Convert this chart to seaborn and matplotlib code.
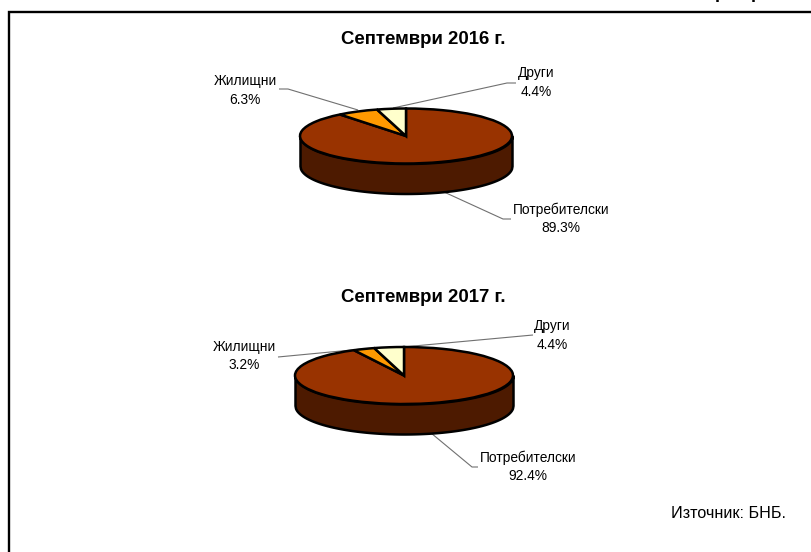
import numpy as np
import matplotlib.pyplot as plt
import seaborn as sns

# Data
categories = ['Потребителски', 'Жилищни', 'Други']
values_2016 = [89.3, 6.3, 4.4]
values_2017 = [92.4, 3.2, 4.4]
colors = ['#993300', '#FF9900', '#FFFFCC']
side_color = '#4D1A00'

W, H = 811, 552

sns.set_theme(style='white')
plt.rcParams['font.family'] = ['Liberation Sans', 'DejaVu Sans']

fig = plt.figure(figsize=(W / 100, H / 100), dpi=100, facecolor='white')

# back axes in pixel coordinates, for frame, texts and leader lines
bg = fig.add_axes([0, 0, 1, 1])
bg.set_xlim(0, W)
bg.set_ylim(H, 0)
bg.axis('off')


def draw_pie(values, cx, cy, rx, ry, depth):
    ax = fig.add_axes([(cx - rx) / W, (H - cy - ry - depth) / H, 2 * rx / W, (2 * ry + depth) / H])
    d = depth / ry
    x = np.linspace(-1, 1, 400)
    low = -np.sqrt(1 - x ** 2)
    ax.pie(values, colors=colors, startangle=90, counterclock=False, radius=1,
           wedgeprops={'edgecolor': 'black', 'linewidth': 1.8, 'clip_on': False, 'zorder': 3})
    ax.fill_between(x, low - d, low, facecolor=side_color, edgecolor='black',
                    linewidth=1.8, clip_on=False, zorder=2)
    ax.set_aspect('auto')
    ax.set_xlim(-1, 1)
    ax.set_ylim(-1 - d, 1)
    ax.axis('off')
    ax.patch.set_alpha(0)
    return ax


def label(i, values, x, y):
    bg.text(x, y, categories[i] + '\n' + f'{values[i]:.1f}%', ha='center', va='center',
            fontsize=9.9, color='black', linespacing=1.4)


def leader(xs, ys):
    bg.plot(xs, ys, color='#707070', lw=0.8, solid_capstyle='butt')


# frame of the source page
bg.plot([9, 9, W], [H, 12, 12], color='black', lw=1.7, solid_joinstyle='miter')
# clipped heading above the frame, only the descenders are visible
bg.text(720.5, -7, 'р', fontsize=13, fontweight='bold', ha='center', va='center', color='black', clip_on=True)
bg.text(756, -7, 'р', fontsize=13, fontweight='bold', ha='center', va='center', color='black', clip_on=True)

# Септември 2016
bg.text(423, 40, 'Септември 2016 г.', fontsize=13.4, fontweight='bold', ha='center', va='center', color='black')
leader([279, 288, 358], [89, 89, 110])
leader([516, 507, 393], [83, 83, 108])
leader([444, 503, 511], [192, 219, 219])
draw_pie(values_2016, 406, 136, 106, 27.5, 30)
label(1, values_2016, 245, 90.5)
label(2, values_2016, 536, 82.5)
label(0, values_2016, 561, 218.5)

# Септември 2017
bg.text(423, 297, 'Септември 2017 г.', fontsize=13.4, fontweight='bold', ha='center', va='center', color='black')
leader([278, 362], [357, 349])
leader([533, 403], [335, 347])
leader([431, 472, 478], [433, 467, 467])
draw_pie(values_2017, 404, 375.5, 109, 28.5, 30)
label(1, values_2017, 244, 356)
label(2, values_2017, 552, 335.5)
label(0, values_2017, 528, 467)

bg.text(786, 513, 'Източник: БНБ.', fontsize=11.6, ha='right', va='center', color='black')

fig.savefig('out.png', dpi=100)
